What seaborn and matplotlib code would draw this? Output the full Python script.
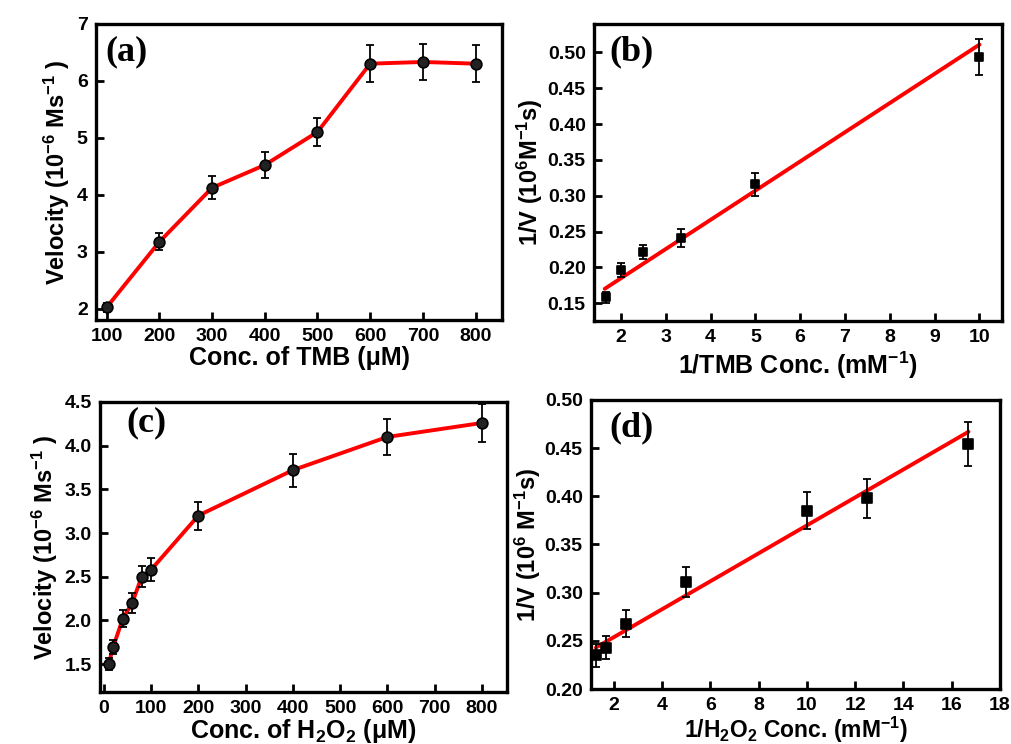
import matplotlib
matplotlib.use('Agg')
import matplotlib.pyplot as plt
from matplotlib.ticker import FormatStrFormatter
import numpy as np
import seaborn as sns

# (a) velocity vs TMB concentration
tmb_conc = [100, 200, 300, 400, 500, 600, 700, 800]
tmb_vel = [2.02, 3.17, 4.12, 4.52, 5.10, 6.30, 6.33, 6.30]
tmb_err = [0.08, 0.15, 0.20, 0.23, 0.25, 0.32, 0.32, 0.32]

# (b) Lineweaver-Burk for TMB
inv_tmb = [1.667, 2.0, 2.5, 3.333, 5.0, 10.0]
inv_v_tmb = [0.158, 0.196, 0.221, 0.241, 0.316, 0.494]
inv_v_tmb_err = [0.008, 0.010, 0.010, 0.012, 0.016, 0.025]
fit_tmb_x = [1.64, 10.0]
fit_tmb_y = [0.170, 0.511]

# (c) velocity vs H2O2 concentration
h2o2_conc = [10, 20, 40, 60, 80, 100, 200, 400, 600, 800]
h2o2_vel = [1.50, 1.70, 2.02, 2.20, 2.50, 2.58, 3.20, 3.72, 4.10, 4.26]
h2o2_err = [0.07, 0.08, 0.10, 0.11, 0.12, 0.13, 0.16, 0.19, 0.21, 0.22]

# (d) Lineweaver-Burk for H2O2
inv_h2o2 = [1.25, 1.667, 2.5, 5.0, 10.0, 12.5, 16.67]
inv_v_h2o2 = [0.235, 0.243, 0.268, 0.311, 0.385, 0.398, 0.454]
inv_v_h2o2_err = [0.012, 0.012, 0.014, 0.016, 0.019, 0.020, 0.023]
fit_h2o2_x = [1.25, 16.7]
fit_h2o2_y = [0.243, 0.467]

sns.set_style('ticks')
plt.rcParams['font.family'] = ['Liberation Sans', 'DejaVu Sans']
plt.rcParams['font.weight'] = 'bold'
plt.rcParams['axes.labelweight'] = 'bold'
for key in ['text.color', 'axes.labelcolor', 'axes.edgecolor', 'xtick.color', 'ytick.color']:
    plt.rcParams[key] = 'black'
plt.rcParams['mathtext.fontset'] = 'custom'
plt.rcParams['mathtext.rm'] = 'Liberation Sans:bold'
plt.rcParams['mathtext.it'] = 'Liberation Sans:bold'
plt.rcParams['mathtext.bf'] = 'Liberation Sans:bold'
plt.rcParams['mathtext.sf'] = 'Liberation Sans:bold'

XLAB = 18
YLAB = 17


def draw_panel(ax, x, y, err, line_x, line_y, marker, msize, face):
    sns.lineplot(x=line_x, y=line_y, ax=ax, color='red', lw=2.8,
                 sort=False, estimator=None, zorder=2)
    ax.errorbar(x, y, yerr=err, fmt='none', ecolor='black', elinewidth=1.3,
                capsize=3, capthick=1.3, zorder=3)
    sns.scatterplot(x=x, y=y, ax=ax, marker=marker, s=msize, color=face,
                    edgecolor='black', linewidth=1.2, zorder=4)
    for s in ax.spines.values():
        s.set_linewidth(2.4)
        s.set_color('black')
        s.set_visible(True)
    ax.tick_params(direction='in', length=6, width=2, labelsize=14, pad=6,
                   top=False, right=False, colors='black')
    for lab in ax.get_xticklabels() + ax.get_yticklabels():
        lab.set_fontweight('bold')


def panel_label(ax, text, x, y):
    ax.text(x, y, text, transform=ax.transAxes, fontsize=26, fontweight='bold',
            family=['Liberation Serif', 'DejaVu Serif'], va='center', ha='left')


fig = plt.figure(figsize=(10.11, 7.44), dpi=100)

# (a)
ax = fig.add_axes([0.095, 0.570, 0.4015, 0.398])
draw_panel(ax, tmb_conc, tmb_vel, tmb_err, tmb_conc, tmb_vel, 'o', 60, '#222222')
ax.set_xlim(80, 850)
ax.set_ylim(1.8, 7.0)
ax.set_xticks(range(100, 801, 100))
ax.set_yticks(range(2, 8))
ax.set_xlabel('Conc. of TMB (μM)', fontsize=XLAB)
ax.set_ylabel(r'Velocity (10$^{-6}$ Ms$^{-1}$ )', fontsize=YLAB)
ax.xaxis.set_label_coords(0.5, -0.088)
ax.yaxis.set_label_coords(-0.06, 0.5)
panel_label(ax, '(a)', 0.022, 0.905)

# (b)
ax = fig.add_axes([0.5875, 0.5685, 0.4035, 0.3995])
draw_panel(ax, inv_tmb, inv_v_tmb, inv_v_tmb_err, fit_tmb_x, fit_tmb_y, 's', 40, 'black')
ax.set_xlim(1.4, 10.5)
ax.set_ylim(0.125, 0.54)
ax.set_xticks(range(2, 11))
ax.set_yticks(np.arange(0.15, 0.51, 0.05))
ax.yaxis.set_major_formatter(FormatStrFormatter('%.2f'))
ax.set_xlabel(r'1/TMB Conc. (mM$^{-1}$)', fontsize=XLAB)
ax.set_ylabel(r'1/V (10$^{6}$M$^{-1}$s)', fontsize=YLAB)
ax.xaxis.set_label_coords(0.5, -0.095)
ax.yaxis.set_label_coords(-0.12, 0.5)
panel_label(ax, '(b)', 0.037, 0.906)

# (c)
ax = fig.add_axes([0.099, 0.0699, 0.4025, 0.3898])
draw_panel(ax, h2o2_conc, h2o2_vel, h2o2_err, h2o2_conc, h2o2_vel, 'o', 60, '#222222')
ax.set_xlim(-8, 853)
ax.set_ylim(1.18, 4.5)
ax.set_xticks(range(0, 801, 100))
ax.set_yticks(np.arange(1.5, 4.51, 0.5))
ax.yaxis.set_major_formatter(FormatStrFormatter('%.1f'))
ax.set_xlabel(r'Conc. of H$_2$O$_2$ (μM)', fontsize=XLAB)
ax.set_ylabel(r'Velocity (10$^{-6}$ Ms$^{-1}$ )', fontsize=YLAB)
ax.xaxis.set_label_coords(0.5, -0.085)
ax.yaxis.set_label_coords(-0.098, 0.5)
panel_label(ax, '(c)', 0.064, 0.928)

# (d)
ax = fig.add_axes([0.5846, 0.0739, 0.4044, 0.3885])
draw_panel(ax, inv_h2o2, inv_v_h2o2, inv_v_h2o2_err, fit_h2o2_x, fit_h2o2_y, 's', 55, 'black')
ax.set_xlim(1.05, 18)
ax.set_ylim(0.2, 0.5)
ax.set_xticks(range(2, 19, 2))
ax.set_yticks(np.arange(0.20, 0.51, 0.05))
ax.yaxis.set_major_formatter(FormatStrFormatter('%.2f'))
ax.set_xlabel(r'1/H$_2$O$_2$ Conc. (mM$^{-1}$)', fontsize=16.5)
ax.set_ylabel(r'1/V (10$^{6}$ M$^{-1}$s)', fontsize=YLAB)
ax.xaxis.set_label_coords(0.5, -0.088)
ax.yaxis.set_label_coords(-0.118, 0.5)
panel_label(ax, '(d)', 0.044, 0.903)

fig.savefig('out.png', dpi=100)
plt.close(fig)
